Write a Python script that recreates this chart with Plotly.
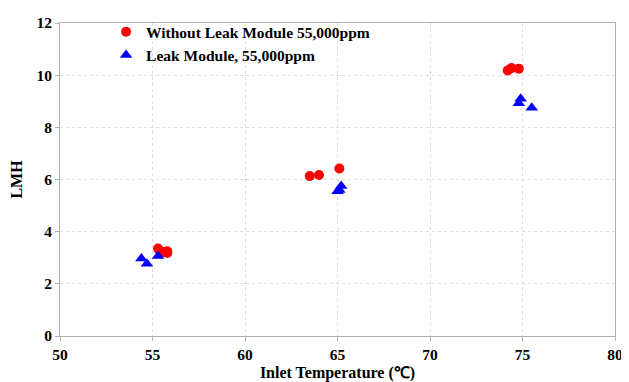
import plotly.graph_objects as go

red_x = [55.3, 55.6, 55.8, 55.8, 63.5, 64.0, 65.1, 74.2, 74.4, 74.8]
red_y = [3.35, 3.22, 3.25, 3.18, 6.13, 6.17, 6.42, 10.18, 10.27, 10.25]
blue_x = [54.4, 54.7, 55.3, 65.0, 65.1, 65.2, 74.8, 74.9, 75.5]
blue_y = [2.97, 2.77, 3.07, 5.55, 5.6, 5.75, 8.92, 9.1, 8.75]

font = dict(family="Liberation Serif", size=16, color="black", weight="bold")

fig = go.Figure()
fig.add_trace(go.Scatter(x=red_x, y=red_y, mode="markers",
                         name="Without Leak Module 55,000ppm",
                         marker=dict(symbol="circle", size=10, color="#ff0000")))
fig.add_trace(go.Scatter(x=blue_x, y=blue_y, mode="markers",
                         name="Leak Module, 55,000ppm",
                         marker=dict(symbol="triangle-up", size=11, color="#0000ff")))

axis_common = dict(showline=True, linecolor="#b0b0b0", linewidth=1, mirror=True,
                   showgrid=True, gridcolor="#dddddd", griddash="dot", gridwidth=1,
                   ticks="outside", ticklen=4, tickcolor="#b0b0b0", zeroline=False,
                   automargin=False,
                   tickfont=dict(family="Liberation Serif", size=15.5, color="black", weight="bold"))

fig.update_xaxes(range=[50, 80], dtick=5,
                 title=dict(text="Inlet Temperature (℃)", font=font, standoff=16),
                 **axis_common)
fig.update_yaxes(range=[0, 12], dtick=2,
                 title=dict(text="LMH", font=font, standoff=14),
                 **axis_common)

fig.update_layout(
    width=621, height=374,
    margin=dict(l=52, r=14, t=7, b=46),
    paper_bgcolor="white", plot_bgcolor="white",
    showlegend=True,
    legend=dict(x=0.083, y=1.025, xanchor="left", yanchor="top",
                font=dict(family="Liberation Serif", size=15.5, color="black", weight="bold"),
                bgcolor="rgba(0,0,0,0)", itemwidth=30, tracegroupgap=0),
)

fig.write_html("out.html")
